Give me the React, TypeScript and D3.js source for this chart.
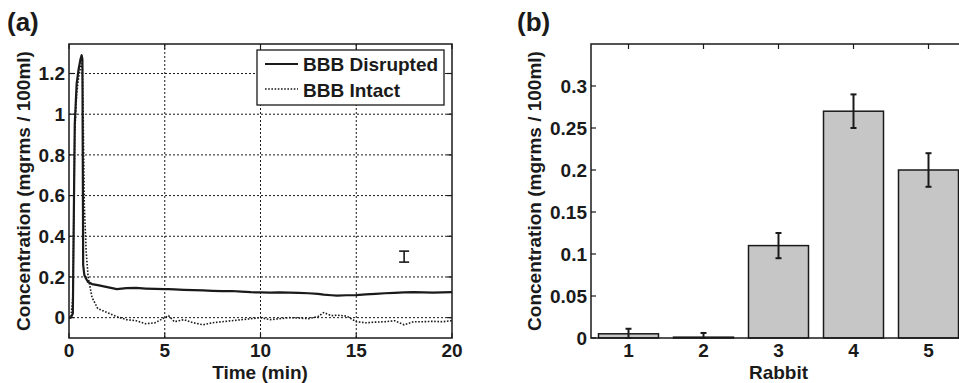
import React from 'react';
import * as d3 from 'd3';

// panel (a): concentration over time
const timeMin = [
  0, 0.1, 0.2, 0.3, 0.4, 0.5, 0.6, 0.66, 0.7, 0.74,
  0.8, 0.9, 1.0, 1.2, 1.5, 2, 2.5, 3, 3.5, 4,
  4.5, 5, 5.2, 5.5, 6, 6.5, 7, 7.5, 8, 8.5,
  9, 9.5, 10, 10.5, 11, 11.5, 12, 12.5, 13, 13.3,
  13.7, 14, 14.5, 15, 15.5, 16, 16.5, 17, 17.5, 18,
  18.5, 19, 19.5, 20,
];
const bbbDisrupted = [
  0, 0, 0.02, 0.95, 1.15, 1.22, 1.27, 1.29, 1.27, 0.26,
  0.21, 0.19, 0.175, 0.165, 0.16, 0.15, 0.14, 0.145, 0.146, 0.143,
  0.141, 0.14, 0.14, 0.139, 0.137, 0.135, 0.134, 0.132, 0.13, 0.131,
  0.128, 0.125, 0.124, 0.123, 0.124, 0.123, 0.122, 0.12, 0.117, 0.113,
  0.11, 0.108, 0.11, 0.111, 0.114, 0.117, 0.12, 0.122, 0.124, 0.125,
  0.124, 0.123, 0.124, 0.125,
];
const bbbIntact = [
  0, 0, 0.1, 0.9, 1.1, 1.18, 1.23, 1.25, 1.22, 1.0,
  0.55, 0.32, 0.2, 0.1, 0.045, 0.025, 0.005, -0.01, -0.015, -0.03,
  -0.025, 0.0, 0.01, -0.02, -0.01, -0.025, -0.035, -0.025, -0.02, -0.015,
  -0.01, -0.005, 0.0, -0.01, -0.005, 0.0, -0.002, -0.005, 0.005, 0.025,
  0.01, 0.012, 0.008, -0.02, -0.025, -0.022, -0.02, -0.015, -0.035, -0.02,
  -0.02, -0.018, -0.02, -0.015,
];
const markerTime = [17.5];
const markerConc = [0.3];
const markerErr = [0.027];
const timeTicks = [0, 5, 10, 15, 20];
const concTicksA = [0, 0.2, 0.4, 0.6, 0.8, 1, 1.2];

// panel (b): per rabbit
const rabbits = ['1', '2', '3', '4', '5'];
const rabbitConc = [0.005, 0.001, 0.11, 0.27, 0.2];
const rabbitErr = [0.006, 0.005, 0.015, 0.02, 0.02];
const concTicksB = [0, 0.05, 0.1, 0.15, 0.2, 0.25, 0.3];

const FONT = '"Liberation Sans", Arial, sans-serif';
const INK = '#1a1a1a';
const fmt = (d: number) => String(+d.toFixed(2));

const App: React.FC = () => {
  // panel (a) layout
  const a = { left: 69, right: 452, top: 44, bottom: 338 };
  const xA = d3.scaleLinear().domain([0, 20]).range([a.left, a.right]);
  const yA = d3.scaleLinear().domain([-0.1, 1.345]).range([a.bottom, a.top]);

  const pts = timeMin.map((t, i) => ({ t, d: bbbDisrupted[i], n: bbbIntact[i] }));
  const lineD = d3.line<typeof pts[0]>().x(p => xA(p.t)).y(p => yA(p.d));
  const lineN = d3.line<typeof pts[0]>().x(p => xA(p.t)).y(p => yA(p.n));

  // panel (b) layout
  const b = { left: 591, top: 44, bottom: 338 };
  const xB = d3.scaleLinear().domain([0.5, 5.5]).range([b.left, b.left + 375]);
  const yB = d3.scaleLinear().domain([0, 0.35]).range([b.bottom, b.top]);
  const bw = (xB(2) - xB(1)) * 0.8;

  const tick = 5;
  const textStyle = { fontFamily: FONT, fontWeight: 700, fontSize: 19, fill: INK } as const;

  return (
    <svg width={959} height={383} style={{ position: 'absolute', left: 0, top: 0, background: '#fff' }}>
      <defs>
        <clipPath id="clipA">
          <rect x={a.left} y={a.top} width={a.right - a.left} height={a.bottom - a.top} />
        </clipPath>
      </defs>

      {/* ---------- (a) ---------- */}
      <text x={7} y={31} style={{ ...textStyle, fontSize: 26 }}>(a)</text>

      {/* grid */}
      {timeTicks.slice(1, -1).map(t => (
        <line key={'gx' + t} x1={xA(t)} x2={xA(t)} y1={a.top} y2={a.bottom}
          stroke={INK} strokeWidth={1} strokeDasharray="2,2" />
      ))}
      {concTicksA.map(v => (
        <line key={'gy' + v} x1={a.left} x2={a.right} y1={yA(v)} y2={yA(v)}
          stroke={INK} strokeWidth={1} strokeDasharray="2,2" />
      ))}

      {/* ticks */}
      {timeTicks.map(t => (
        <g key={'tx' + t}>
          <line x1={xA(t)} x2={xA(t)} y1={a.bottom} y2={a.bottom - tick} stroke={INK} strokeWidth={1.2} />
          <line x1={xA(t)} x2={xA(t)} y1={a.top} y2={a.top + tick} stroke={INK} strokeWidth={1.2} />
          <text x={xA(t)} y={357} textAnchor="middle" style={textStyle}>{fmt(t)}</text>
        </g>
      ))}
      {concTicksA.map(v => (
        <g key={'ty' + v}>
          <line x1={a.left} x2={a.left + tick} y1={yA(v)} y2={yA(v)} stroke={INK} strokeWidth={1.2} />
          <line x1={a.right} x2={a.right - tick} y1={yA(v)} y2={yA(v)} stroke={INK} strokeWidth={1.2} />
          <text x={a.left - 4} y={yA(v)} dy="0.36em" textAnchor="end" style={textStyle}>{fmt(v)}</text>
        </g>
      ))}

      {/* series */}
      <g clipPath="url(#clipA)">
        <path d={lineN(pts) || ''} fill="none" stroke={INK} strokeWidth={1.6} strokeDasharray="1.6,1.6" />
        <path d={lineD(pts) || ''} fill="none" stroke={INK} strokeWidth={2.2} strokeLinejoin="round" />
      </g>

      {/* error marker */}
      {markerTime.map((t, i) => {
        const cx = xA(t);
        const y1 = yA(markerConc[i] + markerErr[i]);
        const y2 = yA(markerConc[i] - markerErr[i]);
        return (
          <g key={'m' + i} stroke={INK} strokeWidth={1.6}>
            <line x1={cx} x2={cx} y1={y1} y2={y2} />
            <line x1={cx - 5} x2={cx + 5} y1={y1} y2={y1} />
            <line x1={cx - 5} x2={cx + 5} y1={y2} y2={y2} />
          </g>
        );
      })}

      {/* legend */}
      <rect x={257} y={50} width={187} height={55} fill="#fff" stroke={INK} strokeWidth={1.3} />
      <line x1={265} x2={298} y1={64} y2={64} stroke={INK} strokeWidth={2.2} />
      <text x={303} y={71} style={textStyle}>BBB Disrupted</text>
      <line x1={265} x2={298} y1={89} y2={89} stroke={INK} strokeWidth={1.6} strokeDasharray="1.6,1.6" />
      <text x={303} y={97} style={textStyle}>BBB Intact</text>

      <rect x={a.left} y={a.top} width={a.right - a.left} height={a.bottom - a.top}
        fill="none" stroke={INK} strokeWidth={1.5} />

      <text x={260} y={379} textAnchor="middle" style={textStyle}>Time (min)</text>
      <text transform={`translate(30, ${(a.top + a.bottom) / 2}) rotate(-90)`} textAnchor="middle" style={textStyle}>
        Concentration (mgrms / 100ml)
      </text>

      {/* ---------- (b) ---------- */}
      <text x={517} y={31} style={{ ...textStyle, fontSize: 26 }}>(b)</text>

      {rabbits.map((r, i) => {
        const cx = xB(i + 1);
        const top = yB(rabbitConc[i]);
        const e1 = yB(rabbitConc[i] + rabbitErr[i]);
        const e2 = Math.min(b.bottom, yB(rabbitConc[i] - rabbitErr[i]));
        return (
          <g key={'bar' + r}>
            <rect x={cx - bw / 2} y={top} width={bw} height={b.bottom - top}
              fill="#c6c6c6" stroke={INK} strokeWidth={1.5} />
            <g stroke={INK} strokeWidth={2}>
              <line x1={cx} x2={cx} y1={e1} y2={e2} />
              <line x1={cx - 3} x2={cx + 3} y1={e1} y2={e1} />
              <line x1={cx - 3} x2={cx + 3} y1={e2} y2={e2} />
            </g>
            <line x1={cx} x2={cx} y1={b.top} y2={b.top + tick} stroke={INK} strokeWidth={1.2} />
            <text x={cx} y={357} textAnchor="middle" style={textStyle}>{r}</text>
          </g>
        );
      })}
      {concTicksB.map(v => (
        <g key={'tb' + v}>
          <line x1={b.left} x2={b.left + tick} y1={yB(v)} y2={yB(v)} stroke={INK} strokeWidth={1.2} />
          <line x1={xB(5.5)} x2={xB(5.5) - tick} y1={yB(v)} y2={yB(v)} stroke={INK} strokeWidth={1.2} />
          <text x={b.left - 4} y={yB(v)} dy="0.36em" textAnchor="end" style={textStyle}>{fmt(v)}</text>
        </g>
      ))}
      <rect x={b.left} y={b.top} width={xB(5.5) - b.left} height={b.bottom - b.top}
        fill="none" stroke={INK} strokeWidth={1.5} />

      <text x={xB(3)} y={379} textAnchor="middle" style={textStyle}>Rabbit</text>
      <text transform={`translate(541, ${(b.top + b.bottom) / 2}) rotate(-90)`} textAnchor="middle" style={textStyle}>
        Concentration (mgrms / 100ml)
      </text>
    </svg>
  );
};

export default App;
